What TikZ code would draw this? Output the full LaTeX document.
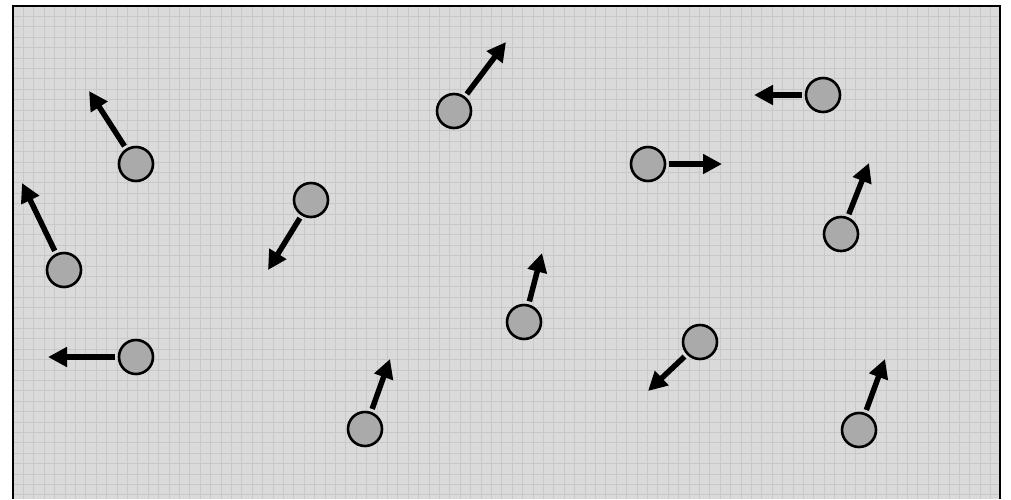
\documentclass[tikz,border=0pt]{standalone}
\usetikzlibrary{arrows.meta}
\definecolor{bg}{HTML}{DADADA}
\definecolor{gridc}{HTML}{C8C8C8}
\definecolor{ball}{HTML}{AAAAAA}
\tikzset{
  ball/.style={circle, draw=black, fill=ball, line width=2.6pt, minimum size=34pt, inner sep=0pt},
  vel/.style={line width=5.5pt, shorten <=3pt, -{Triangle[length=19pt,width=19pt]}},
  frame/.style={draw=black, line width=2pt}
}
\begin{document}
\begin{tikzpicture}[x=1pt,y=-1pt]
\useasboundingbox (0,0) rectangle (1011,499);
\fill[bg] (13,6) rectangle (1000,499);
\begin{scope}
\clip (13,6) rectangle (1000,499);
\foreach \i in {0,...,95} {\draw[gridc, line width=0.8pt] ({13+10.4*\i},6) -- ({13+10.4*\i},499);}
\foreach \j in {0,...,48} {\draw[gridc, line width=0.8pt] (13,{6+10.4*\j}) -- (1000,{6+10.4*\j});}
\end{scope}
\draw[frame] (13,499) -- (13,6) -- (1000,6) -- (1000,499);

\node[ball] (c1) at (136,164) {};
\node[ball] (c2) at (64,270) {};
\node[ball] (c3) at (136,357) {};
\node[ball] (c4) at (311,200) {};
\node[ball] (c5) at (454,111) {};
\node[ball] (c6) at (365,429) {};
\node[ball] (c7) at (524,322) {};
\node[ball] (c8) at (648,164) {};
\node[ball] (c9) at (823,95) {};
\node[ball] (c10) at (841,234) {};
\node[ball] (c11) at (700,342) {};
\node[ball] (c12) at (859,430) {};

\coordinate (t1) at (89,91);
\coordinate (t2) at (22,183);
\coordinate (t3) at (48,357);
\coordinate (t4) at (268,270);
\coordinate (t5) at (506,42);
\coordinate (t6) at (390,359);
\coordinate (t7) at (542,253);
\coordinate (t8) at (722,164);
\coordinate (t9) at (754,95);
\coordinate (t10) at (869,163);
\coordinate (t11) at (648,391);
\coordinate (t12) at (885,359);

\foreach \k in {1,...,12} {\draw[vel] (c\k) -- (t\k);}
\end{tikzpicture}
\end{document}
